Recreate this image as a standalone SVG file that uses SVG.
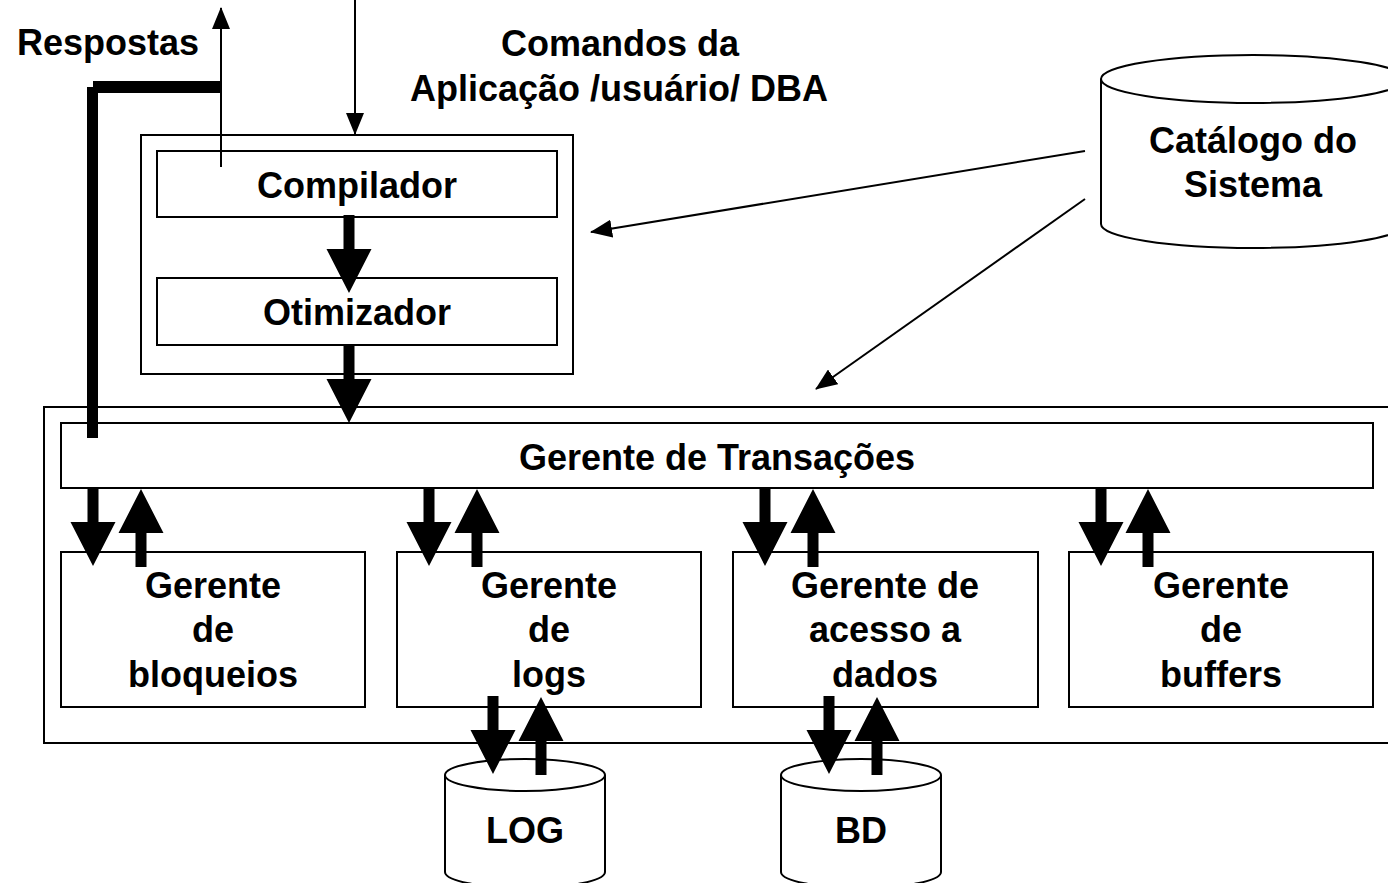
<svg xmlns="http://www.w3.org/2000/svg" xmlns:xlink="http://www.w3.org/1999/xlink" width="1388" height="883" viewBox="0 0 1388 883">
<style>
.box{fill:#fff;stroke:#000;stroke-width:2}
.cyl{fill:#fff;stroke:#000;stroke-width:2}
.thin{fill:none;stroke:#000;stroke-width:2}
.t{font-family:"Liberation Sans",Arial,sans-serif;font-weight:bold;font-size:36px;fill:#000;text-anchor:middle}
.ta{fill:#000}
</style>
<defs>
<marker id="ah" viewBox="0 0 22 18" refX="21" refY="9" markerWidth="22" markerHeight="18" markerUnits="userSpaceOnUse" orient="auto">
<path d="M0,0 L22,9 L0,18 Z" fill="#000"/>
</marker>
<path id="dn" d="M-5.5,0 H5.5 V34 H22.5 L0,78 L-22.5,34 H-5.5 Z"/>
</defs>
<rect width="1388" height="883" fill="#fff"/>

<g id="processador">
<rect class="box" x="141" y="135" width="432" height="239"/>
</g>
<g id="compilador">
<rect class="box" x="157" y="151" width="400" height="66"/>
<text class="t" x="357" y="198">Compilador</text>
</g>
<g id="otimizador">
<rect class="box" x="157" y="278" width="400" height="67"/>
<text class="t" x="357" y="325">Otimizador</text>
</g>
<g id="nucleo">
<rect class="box" x="44" y="407" width="1360" height="336"/>
</g>
<g id="gerente-transacoes">
<rect class="box" x="61" y="423" width="1312" height="65"/>
<text class="t" x="717" y="470">Gerente de Transações</text>
</g>
<g id="gerente-bloqueios">
<rect class="box" x="61" y="552" width="304" height="155"/>
<text class="t" x="213" y="598">Gerente</text>
<text class="t" x="213" y="642">de</text>
<text class="t" x="213" y="687">bloqueios</text>
</g>
<g id="gerente-logs">
<rect class="box" x="397" y="552" width="304" height="155"/>
<text class="t" x="549" y="598">Gerente</text>
<text class="t" x="549" y="642">de</text>
<text class="t" x="549" y="687">logs</text>
</g>
<g id="gerente-acesso">
<rect class="box" x="733" y="552" width="305" height="155"/>
<text class="t" x="885" y="598">Gerente de</text>
<text class="t" x="885" y="642">acesso a</text>
<text class="t" x="885" y="687">dados</text>
</g>
<g id="gerente-buffers">
<rect class="box" x="1069" y="552" width="304" height="155"/>
<text class="t" x="1221" y="598">Gerente</text>
<text class="t" x="1221" y="642">de</text>
<text class="t" x="1221" y="687">buffers</text>
</g>
<g id="log">
<path class="cyl" d="M445,775 A80,16 0 0 1 605,775 V872 A80,16 0 0 1 445,872 Z"/>
<path class="thin" d="M445,775 A80,16 0 0 0 605,775"/>
<text class="t" x="525" y="843">LOG</text>
</g>
<g id="bd">
<path class="cyl" d="M781,775 A80,16 0 0 1 941,775 V872 A80,16 0 0 1 781,872 Z"/>
<path class="thin" d="M781,775 A80,16 0 0 0 941,775"/>
<text class="t" x="861" y="843">BD</text>
</g>
<g id="catalogo">
<path class="cyl" d="M1101,79 A152,24 0 0 1 1405,79 V224 A152,24 0 0 1 1101,224 Z"/>
<path class="thin" d="M1101,79 A152,24 0 0 0 1405,79"/>
<text class="t" x="1253" y="153">Catálogo do</text>
<text class="t" x="1253" y="197">Sistema</text>
</g>
<g id="rotulos">
<text class="t" x="108" y="55">Respostas</text>
<text class="t" x="620" y="56">Comandos da</text>
<text class="t" x="619" y="101">Aplicação /usuário/ DBA</text>
</g>

<g id="conectores">
<line class="thin" x1="221" y1="167" x2="221" y2="8" marker-end="url(#ah)"/>
<line class="thin" x1="355" y1="0" x2="355" y2="134" marker-end="url(#ah)"/>
<line class="thin" x1="1085" y1="151" x2="591" y2="232" marker-end="url(#ah)"/>
<line class="thin" x1="1085" y1="199" x2="816" y2="389" marker-end="url(#ah)"/>
<line x1="93" y1="87" x2="221" y2="87" stroke="#000" stroke-width="12"/>
<line x1="92.5" y1="87" x2="92.5" y2="438" stroke="#000" stroke-width="11"/>
<use xlink:href="#dn" class="ta" transform="translate(349,215)"/>
<use xlink:href="#dn" class="ta" transform="translate(349,345)"/>
<use xlink:href="#dn" class="ta" transform="translate(93,488)"/>
<use xlink:href="#dn" class="ta" transform="translate(429,488)"/>
<use xlink:href="#dn" class="ta" transform="translate(765,488)"/>
<use xlink:href="#dn" class="ta" transform="translate(1101,488)"/>
<use xlink:href="#dn" class="ta" transform="translate(141,567) scale(1,-1)"/>
<use xlink:href="#dn" class="ta" transform="translate(477,567) scale(1,-1)"/>
<use xlink:href="#dn" class="ta" transform="translate(813,567) scale(1,-1)"/>
<use xlink:href="#dn" class="ta" transform="translate(1148,567) scale(1,-1)"/>
<use xlink:href="#dn" class="ta" transform="translate(493,696)"/>
<use xlink:href="#dn" class="ta" transform="translate(829,696)"/>
<use xlink:href="#dn" class="ta" transform="translate(541,775) scale(1,-1)"/>
<use xlink:href="#dn" class="ta" transform="translate(877,775) scale(1,-1)"/>
</g>
</svg>
